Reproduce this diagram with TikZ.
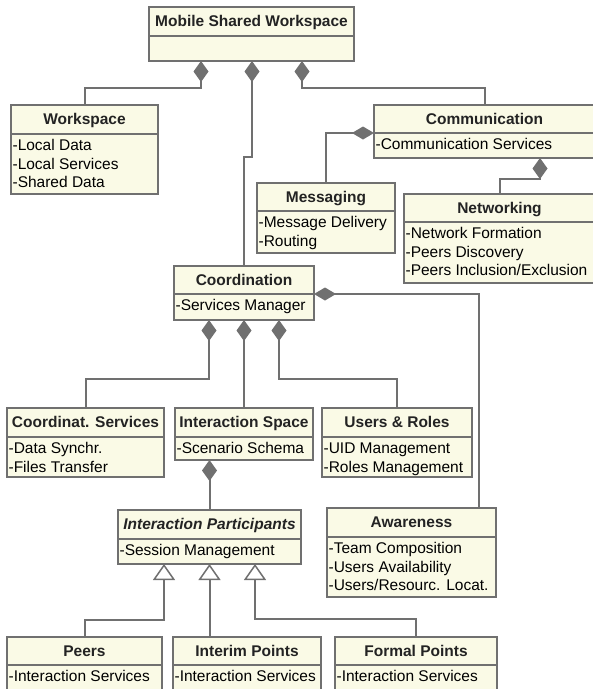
\documentclass[tikz,border=0pt]{standalone}
\usepackage{fontspec}
\setmainfont{Liberation Sans}
\usetikzlibrary{arrows.meta}

\definecolor{umlfill}{RGB}{250,250,230}
\definecolor{umlline}{RGB}{112,112,112}
\definecolor{umltitle}{RGB}{35,35,35}

\newcommand\attrfont{\fontsize{15.5pt}{18.8pt}\selectfont}

% UML class: name, left, top, right, divider, bottom, title, attributes
\newcommand\umlclass[8]{%
  \pgfmathsetlengthmacro\umlw{#4-#2}%
  \pgfmathsetlengthmacro\umlht{#5-#3}%
  \pgfmathsetlengthmacro\umlhb{#6-#5}%
  \node[classtitle, minimum width=\umlw, minimum height=\umlht] (#1) at (#2,#3) {#7};
  \node[classbody] (#1-a) at (#2,#5)
    {\parbox[c][\umlhb][t]{\umlw}{\attrfont\raggedright\leftskip=1.6pt\rule{0pt}{16.3pt}#8}};
}

\tikzset{
  box/.style={draw=umlline, fill=umlfill, line width=2.2pt, inner sep=0pt,
    outer sep=0pt, anchor=north west},
  classtitle/.style={box, font=\fontsize{15.5pt}{18pt}\selectfont\bfseries,
    text=umltitle, text height=10.7pt, text depth=0pt},
  classbody/.style={box},
  link/.style={draw=umlline, line width=2pt},
  compv/.style={link, {Diamond[length=21pt,width=15pt,line width=0pt]}-},
  comph/.style={link, {Diamond[length=22pt,width=13pt,line width=0pt]}-},
  gen/.style={link, {Triangle[open,length=16pt,width=22pt,line width=1.5pt,fill=white]}-}
}

\begin{document}
\begin{tikzpicture}[x=1pt,y=-1pt]
\useasboundingbox (0,0) rectangle (593,689);

\umlclass{msw}{149}{7}{354}{36}{61}{Mobile Shared Workspace}{}
\umlclass{ws}{11}{105}{158}{134}{194}{Workspace}{-Local Data\\-Local Services\\-Shared Data}
\umlclass{cm}{374}{105}{595}{133}{158}{Communication}{-Communication Services}
\umlclass{ms}{257}{183}{395}{211}{253}{Messaging}{-Message Delivery\\-Routing}
\umlclass{nw}{404}{194}{595}{222}{283}{Networking}{-Network Formation\\-Peers Discovery\\-Peers Inclusion/Exclusion}
\umlclass{co}{174}{266}{314}{294}{320}{Coordination}{-Services Manager}
\umlclass{cs}{7}{408}{164}{437}{477}{Coordinat. Services}{-Data Synchr.\\-Files Transfer}
\umlclass{is}{175}{408}{313}{437}{460}{Interaction Space}{-Scenario Schema}
\umlclass{ur}{322}{408}{472}{437}{477}{Users \& Roles}{-UID Management\\-Roles Management}
\umlclass{ip}{118}{510}{301}{539}{564}{\itshape Interaction Participants}{-Session Management}
\umlclass{aw}{327}{508}{496}{537}{597}{Awareness}{-Team Composition\\-Users Availability\\-Users/Resourc. Locat.}
\umlclass{pe}{7}{637}{162}{665}{700}{Peers}{-Interaction Services}
\umlclass{ipt}{173}{637}{321}{665}{700}{Interim Points}{-Interaction Services}
\umlclass{fp}{335}{637}{497}{665}{700}{Formal Points}{-Interaction Services}

% compositions
\draw[compv] ([xshift=52pt]msw-a.south west) -- ++(0,27) -| (ws.north);
\draw[compv] ([xshift=103pt]msw-a.south west) -- ++(0,96) -| (co.north);
\draw[compv] ([xshift=153pt]msw-a.south west) -- ++(0,27) -| (cm.north);
\draw[comph] (cm.south west) -| (ms.north);
\draw[compv] ([xshift=166pt]cm-a.south west) -- ++(0,21) -| (nw.north);
\draw[compv] ([xshift=35pt]co-a.south west) -- ++(0,59) -| (cs.north);
\draw[compv] (co-a.south) -- (is.north);
\draw[compv] ([xshift=105pt]co-a.south west) -- ++(0,59) -| (ur.north);
\draw[comph] (co.south east) -| ([xshift=152pt]aw.north west);
\draw[compv] ([xshift=34.5pt]is-a.south west) -- (ip.north);

% generalizations
\draw[gen] ([xshift=46pt]ip-a.south west) -- ++(0,56) -| (pe.north);
\draw[gen] (ip-a.south) -- (ip-a.south |- ipt.north);
\draw[gen] ([xshift=137pt]ip-a.south west) -- ++(0,55) -| (fp.north);
\end{tikzpicture}
\end{document}
